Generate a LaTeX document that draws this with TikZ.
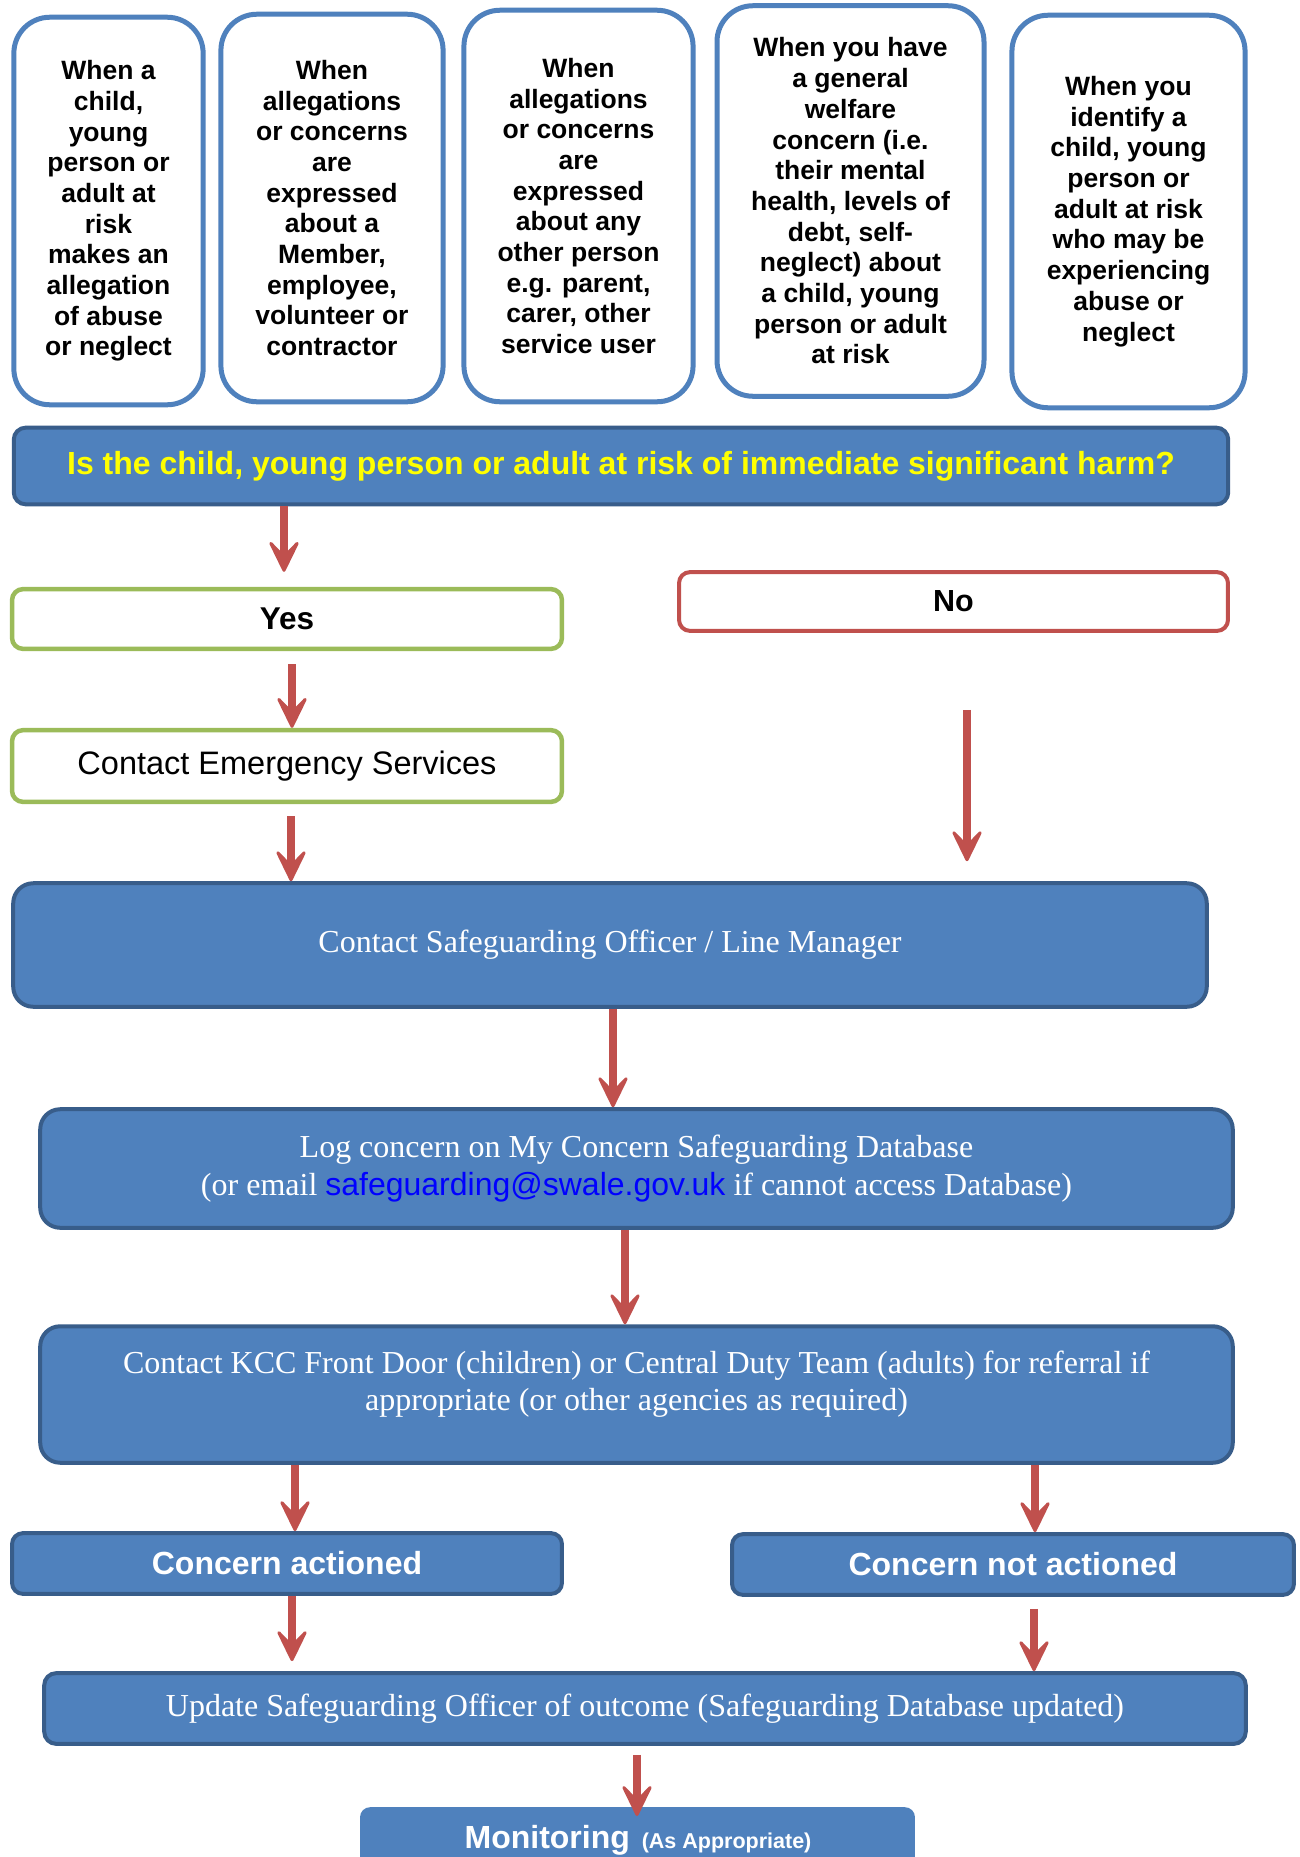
\documentclass[tikz,border=0pt]{standalone}
\usepackage{fontspec}
\setmainfont{Liberation Serif}
\newfontfamily\arialf{Liberation Sans}
\usetikzlibrary{arrows.meta}
\definecolor{topblue}{HTML}{4F81BD}
\definecolor{fillblue}{HTML}{4F81BD}
\definecolor{edgeblue}{HTML}{385D8A}
\definecolor{boxgreen}{HTML}{9BBB59}
\definecolor{boxred}{HTML}{C0504D}
\definecolor{arrred}{HTML}{C0504D}
\definecolor{qyellow}{HTML}{FFFF00}
\definecolor{mailblue}{HTML}{0000FF}
\begin{document}
\begin{tikzpicture}[x=1bp,y=-1bp,
  topbox/.style={draw=topblue, line width=5bp, fill=white, rounded corners=36bp, inner sep=0pt, align=center,
    font=\arialf\bfseries\fontsize{26.5bp}{30.7bp}\selectfont},
  qbar/.style={draw=edgeblue, line width=4bp, fill=fillblue, rounded corners=12bp, inner sep=0pt, align=center,
    text=qyellow, font=\arialf\bfseries\fontsize{32bp}{37bp}\selectfont},
  yesbox/.style={draw=boxgreen, line width=4.5bp, fill=white, rounded corners=11bp, inner sep=0pt, align=center,
    font=\arialf\fontsize{32.5bp}{37bp}\selectfont},
  nobox/.style={draw=boxred, line width=4bp, fill=white, rounded corners=11bp, inner sep=0pt, align=center,
    font=\arialf\bfseries\fontsize{30.5bp}{36bp}\selectfont},
  bluebox/.style={draw=edgeblue, line width=4bp, fill=fillblue, rounded corners=20bp, inner sep=0pt, align=center,
    text=white, font=\fontsize{32bp}{37.5bp}\selectfont},
  boldblue/.style={draw=edgeblue, line width=4bp, fill=fillblue, rounded corners=11bp, inner sep=0pt, align=center,
    text=white, font=\arialf\bfseries\fontsize{32bp}{37bp}\selectfont},
  monbox/.style={fill=fillblue, rounded corners=10bp, inner sep=0pt},
  plaintext/.style={inner sep=0pt, align=center, text=white},
  arr/.style={draw=arrred, line width=8.5bp, -{Stealth[length=38bp,width=37bp,inset=19bp,round,line width=3bp]}}
]
\useasboundingbox (0,0) rectangle (1300,1857);
\clip (0,0) rectangle (1300,1857);
\fill[white] (0,0) rectangle (1300,1857);

% top boxes
\node[topbox, minimum width=190, minimum height=389] (b1) at (108.5,211)
  {When a\\child,\\young\\person or\\adult at\\risk\\makes an\\allegation\\of abuse\\or neglect};
\node[topbox, minimum width=223, minimum height=389] (b2) at (332,208)
  {When\\allegations\\or concerns\\are\\expressed\\about a\\Member,\\employee,\\volunteer or\\contractor};
\node[topbox, minimum width=230, minimum height=393] (b3) at (578.5,206)
  {When\\allegations\\or concerns\\are\\expressed\\about any\\other person\\e.g. parent,\\carer, other\\service user};
\node[topbox, minimum width=268, minimum height=392] (b4) at (850.5,201)
  {When you have\\a general\\welfare\\concern (i.e.\\their mental\\health, levels of\\debt, self-\\neglect) about\\a child, young\\person or adult\\at risk};
\node[topbox, minimum width=234, minimum height=394] (b5) at (1128.5,211.5)
  {When you\\identify a\\child, young\\person or\\adult at risk\\who may be\\experiencing\\abuse or\\neglect};

% question bar
\node[qbar, minimum width=1219, minimum height=77] (q) at (621,466)
  {Is the child, young person or adult at risk of immediate significant harm?};

% yes / no
\node[yesbox, minimum width=552, minimum height=60, font=\arialf\bfseries\fontsize{31.5bp}{36bp}\selectfont] (yes) at (287,619) {Yes};
\node[nobox, minimum width=551, minimum height=59] (no) at (953.5,601.5) {No};
\node[yesbox, minimum width=552, minimum height=72] (ces) at (287,766) {Contact Emergency Services};

% blue boxes
\node[bluebox, minimum width=1198, minimum height=124] (sg) at (610,945) {Contact Safeguarding Officer / Line Manager};
\node[bluebox, minimum width=1197, minimum height=119] (log) at (636.5,1168.5)
  {Log concern on My Concern Safeguarding Database\\(or email {\arialf\color{mailblue}safeguarding@swale.gov.uk} if cannot access Database)};
\node[bluebox, minimum width=1197, minimum height=137] (kcc) at (636.5,1394.5) {};
\node[plaintext, font=\fontsize{32bp}{37.5bp}\selectfont] (kcct) at (636.5,1384)
  {Contact KCC Front Door (children) or Central Duty Team (adults) for referral if\\appropriate (or other agencies as required)};
\node[boldblue, minimum width=552, minimum height=61] (ca) at (287,1563.5) {Concern actioned};
\node[boldblue, minimum width=564, minimum height=61] (cna) at (1013,1564.5) {Concern not actioned};
\node[bluebox, rounded corners=12bp, minimum width=1206, minimum height=71] (upd) at (645,1708.5)
  {Update Safeguarding Officer of outcome (Safeguarding Database updated)};
\node[monbox, minimum width=557, minimum height=110, anchor=north] (mon) at (637.5,1807) {};
\node[plaintext, font=\arialf\bfseries] (mont) at (638,1840)
  {\fontsize{32bp}{37bp}\selectfont Monitoring\hspace{3bp} \fontsize{21.5bp}{24bp}\selectfont(As Appropriate)};

% x positions of the connectors
\coordinate (x1) at (284,0);
\coordinate (x2) at (292,0);
\coordinate (x3) at (291,0);
\coordinate (x4) at (967,0);
\coordinate (x5) at (613,0);
\coordinate (x6) at (625,0);
\coordinate (x7) at (295,0);
\coordinate (x8) at (1035,0);
\coordinate (x9) at (292,0);
\coordinate (x10) at (1034,0);
\coordinate (x11) at (637,0);

% connectors
\draw[arr, shorten >=15bp] (q.south -| x1) -- (yes.north -| x1);
\draw[arr, shorten <=13bp] (yes.south -| x2) -- (ces.north -| x2);
\draw[arr, shorten <=12bp] (ces.south -| x3) -- (sg.north -| x3);
\draw[arr, shorten <=77bp, shorten >=20bp] (no.south -| x4) -- (sg.north -| x4);
\draw[arr] (sg.south -| x5) -- (log.north -| x5);
\draw[arr] (log.south -| x6) -- (kcc.north -| x6);
\draw[arr] (kcc.south -| x7) -- (ca.north -| x7);
\draw[arr] (kcc.south -| x8) -- (cna.north -| x8);
\draw[arr, shorten >=10bp] (ca.south -| x9) -- (upd.north -| x9);
\draw[arr, shorten <=12bp] (cna.south -| x10) -- (upd.north -| x10);
\draw[arr, shorten <=9bp, shorten >=-9bp] (upd.south -| x11) -- (mon.north -| x11);
\end{tikzpicture}
\end{document}
